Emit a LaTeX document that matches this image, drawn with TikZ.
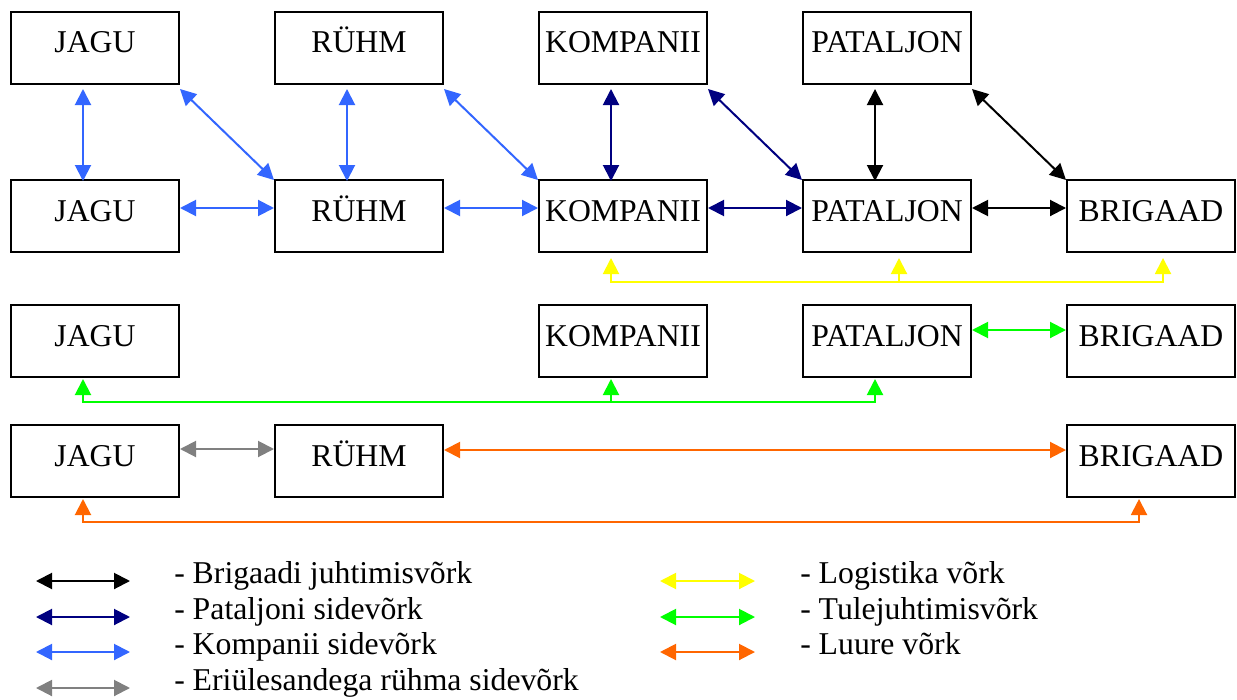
\documentclass[tikz,border=0pt]{standalone}
\usepackage{fontspec}
\setmainfont{Liberation Serif}
\usetikzlibrary{arrows.meta,calc}
\definecolor{kblue}{RGB}{51,102,255}
\definecolor{pnavy}{RGB}{0,0,128}
\definecolor{egray}{RGB}{128,128,128}
\definecolor{lyellow}{RGB}{255,255,0}
\definecolor{tgreen}{RGB}{0,255,0}
\definecolor{lorange}{RGB}{255,102,0}

\begin{document}
\begin{tikzpicture}[x=0.75pt,y=-0.75pt,
  >={Triangle[length=12pt,width=12pt]},
  unitbox/.style={draw, line width=1.5pt, minimum width=126pt, minimum height=54pt,
    inner sep=0pt, text height=15pt, text depth=7.5pt,
    font=\fontsize{23.8pt}{28pt}\selectfont},
  link/.style={line width=1.5pt, <->},
  feed/.style={line width=1.5pt, ->},
  legtext/.style={anchor=base west, inner sep=0pt, font=\fontsize{23.8pt}{28pt}\selectfont}
]
\useasboundingbox (0,0) rectangle (1237,699);

% units, row by row
\node[unitbox] (j1) at (95,48)  {JAGU};
\node[unitbox] (r1) at (359,48) {RÜHM};
\node[unitbox] (k1) at (623,48) {KOMPANII};
\node[unitbox] (p1) at (887,48) {PATALJON};

\node[unitbox] (j2) at (95,216)   {JAGU};
\node[unitbox] (r2) at (359,216)  {RÜHM};
\node[unitbox] (k2) at (623,216)  {KOMPANII};
\node[unitbox] (p2) at (887,216)  {PATALJON};
\node[unitbox] (b2) at (1151,216) {BRIGAAD};

\node[unitbox] (j3) at (95,341)   {JAGU};
\node[unitbox] (k3) at (623,341)  {KOMPANII};
\node[unitbox] (p3) at (887,341)  {PATALJON};
\node[unitbox] (b3) at (1151,341) {BRIGAAD};

\node[unitbox] (j4) at (95,461)   {JAGU};
\node[unitbox] (r4) at (359,461)  {RÜHM};
\node[unitbox] (b4) at (1151,461) {BRIGAAD};

% company net
\draw[link, kblue] ($(j1.south)+(-12,4)$) -- ($(j2.north)+(-12,2)$);
\draw[link, kblue] ($(r1.south)+(-12,4)$) -- ($(r2.north)+(-12,2)$);
\draw[link, kblue] ($(j1.south east)+(0,4)$) -- ($(r2.north west)+(0,1)$);
\draw[link, kblue] ($(r1.south east)+(0,4)$) -- ($(k2.north west)+(0,1)$);
\draw[link, kblue] ($(j2.east)+(0,-8)$) -- ($(r2.west)+(0,-8)$);
\draw[link, kblue] ($(r2.east)+(0,-8)$) -- ($(k2.west)+(0,-8)$);

% battalion net
\draw[link, pnavy] ($(k1.south)+(-12,4)$) -- ($(k2.north)+(-12,2)$);
\draw[link, pnavy] ($(k1.south east)+(0,4)$) -- ($(p2.north west)+(0,1)$);
\draw[link, pnavy] ($(k2.east)+(0,-8)$) -- ($(p2.west)+(0,-8)$);

% brigade command net
\draw[link, black] ($(p1.south)+(-12,4)$) -- ($(p2.north)+(-12,2)$);
\draw[link, black] ($(p1.south east)+(0,4)$) -- ($(b2.north west)+(0,1)$);
\draw[link, black] ($(p2.east)+(0,-8)$) -- ($(b2.west)+(0,-8)$);

% logistics net
\draw[link, lyellow] ($(k2.south)+(-12,5)$) |- ($(b2.south)+(12,29)$) -- ($(b2.south)+(12,5)$);
\draw[feed, lyellow] ($(p2.south)+(12,29)$) -- ($(p2.south)+(12,5)$);

% fire control net
\draw[link, tgreen] ($(p3.east)+(0,-11)$) -- ($(b3.west)+(0,-11)$);
\draw[link, tgreen] ($(j3.south)+(-12,1)$) |- ($(p3.south)+(-12,24)$) -- ($(p3.south)+(-12,1)$);
\draw[feed, tgreen] ($(k3.south)+(-12,24)$) -- ($(k3.south)+(-12,1)$);

% special task platoon net
\draw[link, egray] ($(j4.east)+(0,-12)$) -- ($(r4.west)+(0,-12)$);

% reconnaissance net
\draw[link, lorange] ($(r4.east)+(0,-11)$) -- ($(b4.west)+(0,-11)$);
\draw[link, lorange] ($(j4.south)+(-12,1)$) |- ($(b4.south)+(-12,24)$) -- ($(b4.south)+(-12,1)$);

% legend
\coordinate (la1) at (36,581);  \coordinate (lb1) at (130,581);
\coordinate (la2) at (36,617);  \coordinate (lb2) at (130,617);
\coordinate (la3) at (36,652);  \coordinate (lb3) at (130,652);
\coordinate (la4) at (36,688);  \coordinate (lb4) at (130,688);
\coordinate (la5) at (660,581); \coordinate (lb5) at (755,581);
\coordinate (la6) at (660,617); \coordinate (lb6) at (755,617);
\coordinate (la7) at (660,652); \coordinate (lb7) at (755,652);

\draw[link, black]   (la1) -- (lb1);
\draw[link, pnavy]   (la2) -- (lb2);
\draw[link, kblue]   (la3) -- (lb3);
\draw[link, egray]   (la4) -- (lb4);
\draw[link, lyellow] (la5) -- (lb5);
\draw[link, tgreen]  (la6) -- (lb6);
\draw[link, lorange] (la7) -- (lb7);

\node[legtext] (t1) at (174,583) {- Brigaadi juhtimisvõrk};
\node[legtext] (t2) at (174,619) {- Pataljoni sidevõrk};
\node[legtext] (t3) at (174,654) {- Kompanii sidevõrk};
\node[legtext] (t4) at (174,690) {- Eriülesandega rühma sidevõrk};
\node[legtext] (t5) at (800,583) {- Logistika võrk};
\node[legtext] (t6) at (800,619) {- Tulejuhtimisvõrk};
\node[legtext] (t7) at (800,654) {- Luure võrk};
\end{tikzpicture}
\end{document}
